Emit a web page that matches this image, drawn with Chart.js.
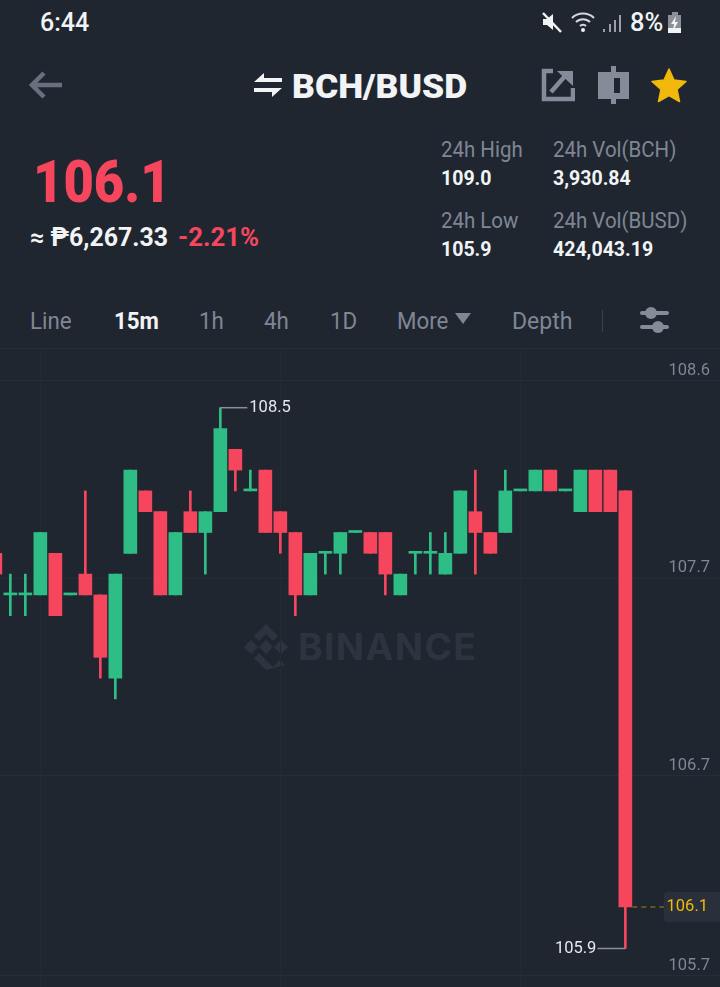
<!DOCTYPE html>
<html>
<head>
<meta charset="utf-8">
<script src="https://cdn.jsdelivr.net/npm/chart.js@4"></script>
<style>
  html, body { margin: 0; padding: 0; background: #1f2630; }
  body { position: relative; width: 720px; height: 987px; overflow: hidden; font-family: Roboto, sans-serif; }
  .t { position: absolute; line-height: 30px; height: 30px; white-space: nowrap; transform-origin: left center; transform: scaleX(.93); }
  .gray { color: #7f8694; }
  .white { color: #f2f3f5; }
  .red { color: #f6465d; }
  .b { font-weight: 700; }
  .m { font-weight: 500; }
  svg { position: absolute; }
  #rule { position: absolute; left: 0; top: 348px; width: 720px; height: 1px; background: #282e39; }
  #wrap { position: absolute; left: 0; top: 349px; width: 720px; height: 638px; }
  #mark { position: absolute; left: 298px; top: 622px; line-height: 50px; font-size: 37px; font-weight: 700; letter-spacing: 1.5px; color: #2d3440; font-family: Inter, Roboto, sans-serif; }
</style>
</head>
<body>
<div class="t white m" style="left:40px;top:8px;font-size:25px;transform:scaleX(1)">6:44</div>
<svg style="left:540px;top:10px" width="24" height="24" viewBox="0 0 24 24"><path d="M3 9h4l6-5v16l-6-5H3z" fill="#f2f3f5"/><path d="M3 3l18 19" stroke="#f2f3f5" stroke-width="2.5"/></svg>
<svg style="left:570px;top:10px" width="28" height="24" viewBox="0 0 28 24"><path d="M2 8a16 16 0 0 1 22 0M6 12a10 10 0 0 1 14 0M10 16a4 4 0 0 1 6 0" fill="none" stroke="#d5d8dd" stroke-width="2"/><circle cx="13" cy="20" r="2" fill="#f2f3f5"/></svg>
<svg style="left:602px;top:12px" width="20" height="22" viewBox="0 0 20 22"><path d="M2 20v-3M8 20v-8M13 20v-12M18 20V3" stroke="#9a9fa8" stroke-width="2"/></svg>
<div class="t white m" style="left:630px;top:8px;font-size:25px;transform:scaleX(1.02)">8%</div>
<svg style="left:667px;top:12px" width="16" height="22" viewBox="0 0 16 22"><rect x="5" y="0" width="6" height="3" fill="#8a8f98"/><rect x="1" y="3" width="13" height="18" fill="#8a8f98"/><rect x="1" y="16" width="13" height="5" fill="#f2f3f5"/><path d="M9 4L4 12h3l-1 7 5-9H8z" fill="#f2f3f5"/></svg>

<svg style="left:28px;top:70px" width="36" height="30" viewBox="0 0 36 30"><path d="M34 15H5M16 3L4 15l12 12" fill="none" stroke="#687080" stroke-width="4.5"/></svg>
<svg style="left:253px;top:72px" width="30" height="26" viewBox="0 0 30 26"><path d="M1 10L11 1v5h18v4zM29 16L19 25v-5H1v-4z" fill="#f2f3f5"/></svg>
<div class="t white" style="left:292px;top:72px;font-size:33px;font-weight:900;transform:scaleX(1.075)">BCH/BUSD</div>
<svg style="left:541px;top:68px" width="34" height="34" viewBox="0 0 34 34"><path d="M12 3H3v28h29V20" fill="none" stroke="#848c9a" stroke-width="4.5"/><path d="M10 24L24 8" stroke="#848c9a" stroke-width="4.5"/><path d="M16 3h16v15z" fill="#848c9a"/></svg>
<svg style="left:597px;top:66px" width="34" height="38" viewBox="0 0 34 38"><rect x="14" y="0" width="5" height="38" fill="#848c9a"/><rect x="1" y="6" width="31" height="27" fill="#848c9a"/><rect x="17" y="12" width="6" height="15" fill="#1f2630"/></svg>
<svg style="left:651px;top:67px" width="36" height="36" viewBox="0 0 36 36"><path d="M18 2l5 11 12 1.500-9 8 2.500 12L18 28.500 7.500 34.500 10 22.500l-9-8 12-1.500z" fill="#f0b90b" stroke="#f0b90b" stroke-linejoin="round" stroke-width="1.500"/></svg>

<div class="t red" style="left:33px;top:167px;font-size:60px;font-weight:900;transform:scaleX(.875)">106.1</div>
<div class="t white b" style="left:30px;top:223px;font-size:25px;transform:scaleX(.995)">≈ ₱6,267.33</div>
<div class="t red b" style="left:178px;top:223px;font-size:25px;transform:scaleX(1.03)">-2.21%</div>

<div class="t gray" style="left:441px;top:135px;font-size:22px">24h High</div>
<div class="t white b" style="left:441px;top:163px;font-size:21px">109.0</div>
<div class="t gray" style="left:441px;top:206px;font-size:22px">24h Low</div>
<div class="t white b" style="left:441px;top:234px;font-size:21px">105.9</div>
<div class="t gray" style="left:553px;top:135px;font-size:22px">24h Vol(BCH)</div>
<div class="t white b" style="left:553px;top:163px;font-size:21px">3,930.84</div>
<div class="t gray" style="left:553px;top:206px;font-size:22px">24h Vol(BUSD)</div>
<div class="t white b" style="left:553px;top:234px;font-size:21px">424,043.19</div>

<div class="t gray" style="left:30px;top:306px;font-size:24px">Line</div>
<div class="t white b" style="left:114px;top:306px;font-size:24px">15m</div>
<div class="t gray" style="left:199px;top:306px;font-size:24px">1h</div>
<div class="t gray" style="left:264px;top:306px;font-size:24px">4h</div>
<div class="t gray" style="left:330px;top:306px;font-size:24px">1D</div>
<div class="t gray" style="left:397px;top:306px;font-size:24px">More</div>
<svg style="left:455px;top:313px" width="16" height="11" viewBox="0 0 16 11"><path d="M0 0h16l-8 11z" fill="#7f8694"/></svg>
<div class="t gray" style="left:512px;top:306px;font-size:24px;transform:scaleX(.96)">Depth</div>
<div style="position:absolute;left:602px;top:310px;width:1px;height:22px;background:#3a414d"></div>
<svg style="left:640px;top:306px" width="30" height="28" viewBox="0 0 30 28"><rect x="0" y="5" width="29" height="4" rx="2" fill="#848c9a"/><rect x="0" y="19" width="29" height="4" rx="2" fill="#848c9a"/><circle cx="11" cy="7" r="6" fill="#848c9a"/><circle cx="18" cy="21" r="6" fill="#848c9a"/></svg>

<div id="rule"></div>
<svg style="left:243px;top:624px" width="46" height="46" viewBox="0 0 46 46"><g fill="#2d3440"><path d="M23 0l12 12-5 5-7-7-7 7-5-5z"/><path d="M23 46L11 34l5-5 7 7 7 7 7-7 5 5z"/><rect x="18" y="18" width="10" height="10" transform="rotate(45 23 23)"/><rect x="3" y="18" width="10" height="10" transform="rotate(45 8 23)"/><rect x="33" y="18" width="10" height="10" transform="rotate(45 38 23)"/></g></svg>
<div id="mark">BINANCE</div>

<div id="wrap"><canvas id="kline"></canvas></div>

<script>
// one entry per 15m candle, left to right (first one is cut off by the screen edge)
const candleIndex = [0,1,2,3,4,5,6,7,8,9,10,11,12,13,14,15,16,17,18,19,20,21,22,23,24,25,26,27,28,29,30,31,32,33,34,35,36,37,38,39,40,41,42]
const opens  = [107.8,107.6,107.6,107.6,107.8,107.6,107.7,107.6,107.2,107.8,108.1,108.0,107.6,108.0,107.9,108.0,108.3,108.1,108.2,108.0,107.9,107.6,107.8,107.8,107.9,107.9,107.9,107.6,107.8,107.8,107.7,107.8,108.0,107.9,107.9,108.1,108.1,108.2,108.1,108.0,108.2,108.2,108.1]
const closes = [107.7,107.6,107.6,107.9,107.5,107.6,107.6,107.3,107.7,108.2,108.0,107.6,107.9,107.9,108.0,108.4,108.2,108.1,107.9,107.9,107.6,107.8,107.8,107.9,107.9,107.8,107.7,107.7,107.8,107.8,107.8,108.1,107.9,107.8,108.1,108.1,108.2,108.1,108.1,108.2,108.0,108.0,106.1]
const highs  = [107.8,107.7,107.7,107.9,107.8,107.6,108.1,107.6,107.7,108.2,108.1,108.0,107.9,108.1,108.0,108.5,108.3,108.2,108.2,108.0,107.9,107.8,107.8,107.9,107.9,107.9,107.9,107.7,107.8,107.9,107.9,108.1,108.2,107.9,108.2,108.1,108.2,108.2,108.1,108.2,108.2,108.2,108.1]
const lows   = [107.7,107.5,107.5,107.6,107.5,107.6,107.6,107.2,107.1,107.8,108.0,107.6,107.6,107.9,107.7,108.0,108.1,108.1,107.9,107.8,107.5,107.6,107.7,107.7,107.9,107.8,107.6,107.6,107.7,107.7,107.7,107.8,107.7,107.8,107.9,108.1,108.1,108.1,108.1,108.0,108.0,108.0,105.9]
const priceTicks = [108.63, 107.68, 106.73, 105.77]
const priceTickLabels = ['108.6', '107.7', '106.7', '105.7']
const timeGrid = [3, 19, 35, 51]
const lastPrice = 106.1
const highMark = { index: 15, price: 108.5, label: '108.5' }
const lowMark = { index: 42, price: 105.9, label: '105.9' }

const green = '#2ebd85'
const red = '#f6465d'
const candleColor = opens.map((o, i) => closes[i] < o ? red : green)

const markers = {
    id: 'markers',
    afterDatasetsDraw(chart) {
        const { ctx, scales: { x, y }, chartArea } = chart
        ctx.save()
        ctx.font = '16.5px Roboto'
        ctx.textBaseline = 'middle'
        ctx.lineWidth = 1.5
        ctx.strokeStyle = '#8a909b'
        ctx.fillStyle = '#e6e8ec'

        // highest / lowest labels with their leader lines
        let px = x.getPixelForValue(highMark.index), py = y.getPixelForValue(highMark.price)
        ctx.beginPath(); ctx.moveTo(px, py); ctx.lineTo(px + 27, py); ctx.stroke()
        ctx.textAlign = 'left'
        ctx.fillText(highMark.label, px + 29, py)

        px = x.getPixelForValue(lowMark.index); py = y.getPixelForValue(lowMark.price)
        ctx.beginPath(); ctx.moveTo(px, py); ctx.lineTo(px - 28, py); ctx.stroke()
        ctx.textAlign = 'right'
        ctx.fillText(lowMark.label, px - 29, py)

        // last price line and its tag on the axis
        py = y.getPixelForValue(lastPrice)
        ctx.setLineDash([5, 4])
        ctx.strokeStyle = '#7a6420'
        ctx.beginPath(); ctx.moveTo(x.getPixelForValue(lowMark.index) + 7, py); ctx.lineTo(664, py); ctx.stroke()
        ctx.setLineDash([])
        ctx.fillStyle = '#2a303b'
        ctx.beginPath(); ctx.roundRect(664, py - 15, 60, 30, 4); ctx.fill()
        ctx.fillStyle = '#f0b90b'
        ctx.textAlign = 'right'
        ctx.fillText(lastPrice.toFixed(1), chartArea.right - 12, py)
        ctx.restore()
    }
}

new Chart('kline', {
    data: {
        datasets: [
            {
                // real bodies
                type: 'bar',
                label: 'body',
                data: candleIndex.map(i => ({ x: i, y: [opens[i], closes[i]] })),
                backgroundColor: candleColor,
                barThickness: 13,
                minBarLength: 2,
                grouped: false,
                order: 1
            },
            {
                // high-low wicks
                type: 'bar',
                label: 'wick',
                data: candleIndex.map(i => ({ x: i, y: [lows[i], highs[i]] })),
                backgroundColor: candleColor,
                barThickness: 2,
                grouped: false,
                order: 2
            }
        ]
    },
    options: {
        responsive: true,
        maintainAspectRatio: false,
        animation: false,
        layout: { padding: 0, autoPadding: false },
        plugins: { legend: { display: false }, tooltip: { enabled: false } },
        scales: {
            x: {
                type: 'linear',
                offset: false,
                min: 0.31,
                max: 48.31,
                afterBuildTicks: scale => { scale.ticks = timeGrid.map(value => ({ value })) },
                afterFit: scale => { scale.height = 0 },
                grid: { color: '#232a34', drawTicks: false, lineWidth: 1, offset: false },
                border: { display: false },
                ticks: { display: false }
            },
            y: {
                type: 'linear',
                position: 'right',
                min: 108.5 - (987 - 407.7) / 208,
                max: 108.5 + (407.7 - 349) / 208,
                afterBuildTicks: scale => { scale.ticks = priceTicks.map(value => ({ value })) },
                afterFit: scale => { scale.width = 0; scale.paddingTop = 0; scale.paddingBottom = 0 },
                grid: { color: '#272d38', drawTicks: false, lineWidth: 1 },
                border: { display: false },
                ticks: {
                    mirror: true,
                    padding: -10,
                    labelOffset: -10,
                    color: '#7f8694',
                    font: { family: 'Roboto', size: 16.5 },
                    callback: (value, index) => priceTickLabels[index]
                }
            }
        }
    },
    plugins: [markers]
})
</script>
</body>
</html>
